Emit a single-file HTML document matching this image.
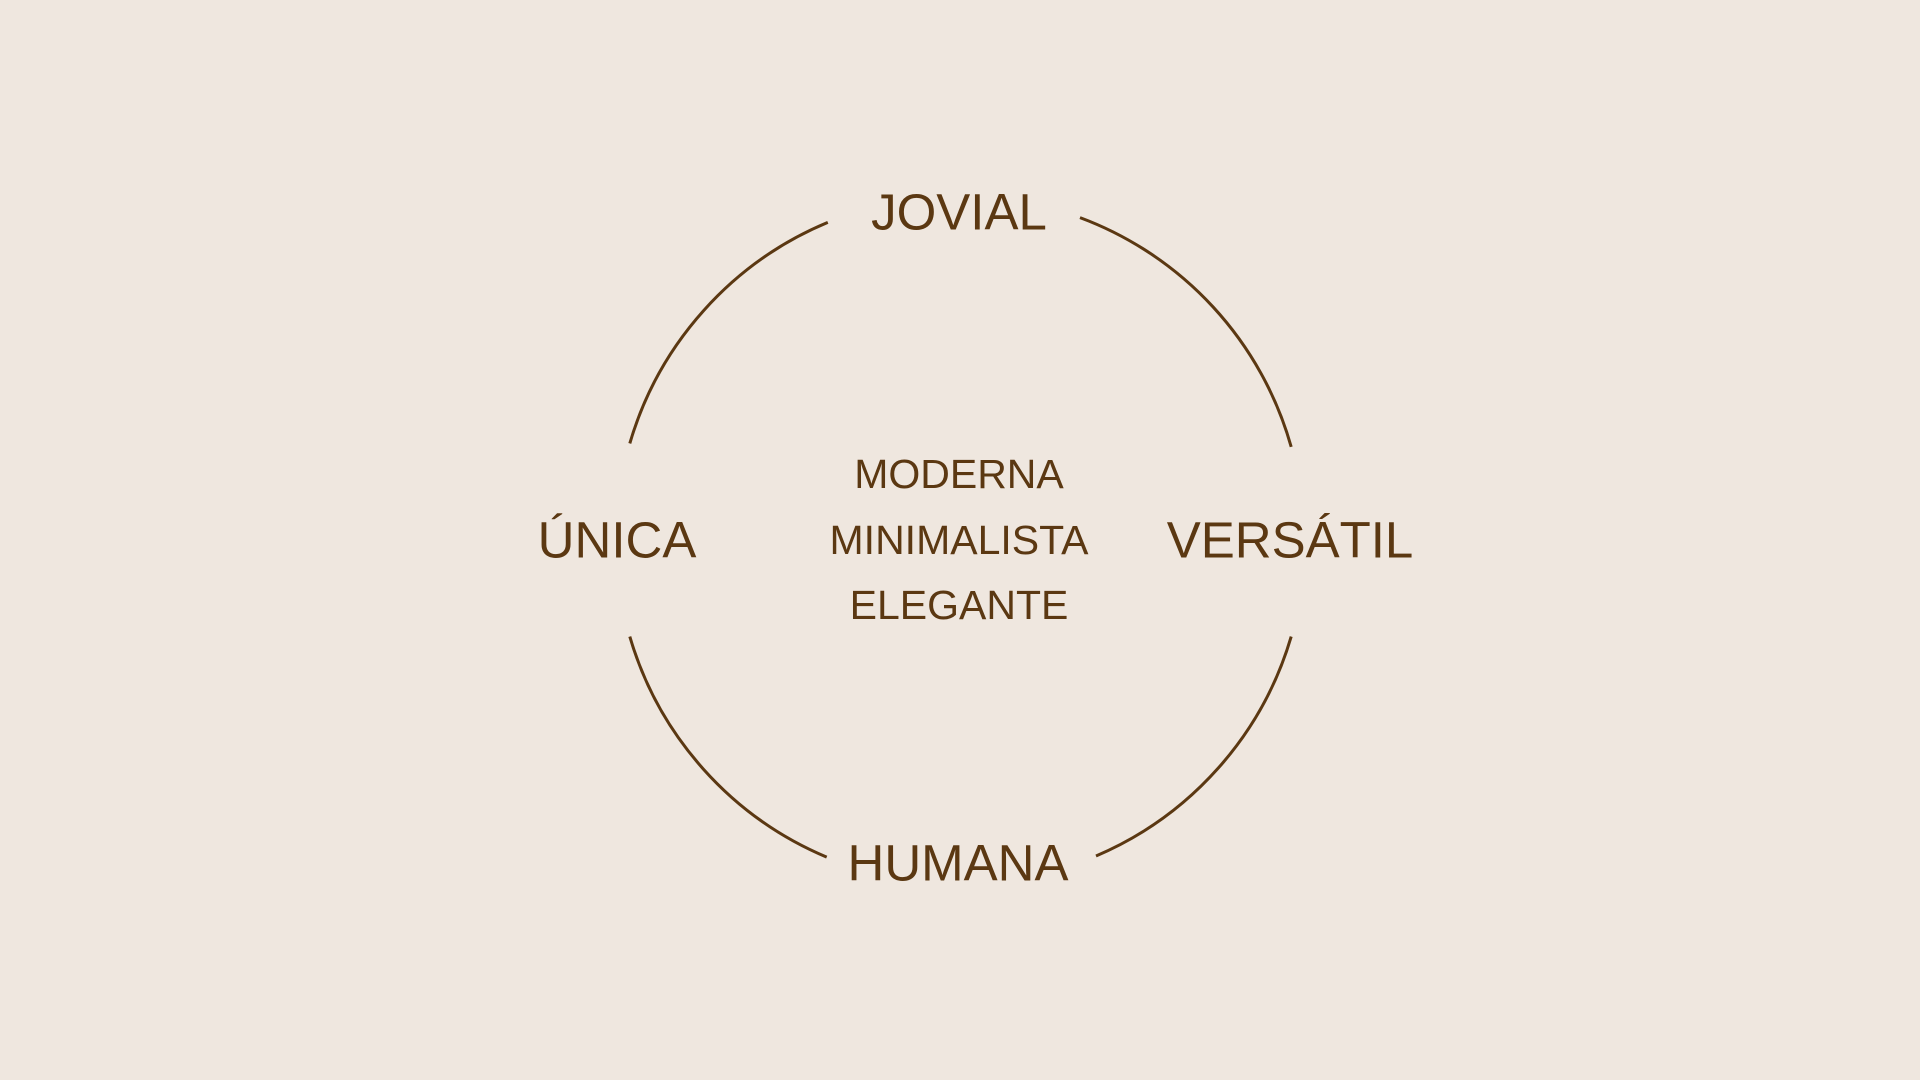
<!DOCTYPE html>
<html><head><meta charset="utf-8"><style>
html,body{margin:0;padding:0;background:#efe7df;}
svg{display:block}
text{font-family:"Liberation Sans","DejaVu Sans",sans-serif;fill:#5b3812;text-anchor:middle;dominant-baseline:central;}
</style></head><body>
<svg width="1920" height="1080" viewBox="0 0 1920 1080">
<rect width="1920" height="1080" fill="#efe7df"/>
<g fill="none" stroke="#5b3812" stroke-width="3">
<path d="M1080 217.6 A344 344 0 0 1 1291.2 446.9"/>
<path d="M827.8 222.4 A344 344 0 0 0 629.8 443.4"/>
<path d="M629.8 636.6 A344 344 0 0 0 826.7 857.1"/>
<path d="M1291.2 636.6 A344 344 0 0 1 1096 856"/>
</g>
<g font-size="51">
<text x="959" y="212">JOVIAL</text>
<text x="617" y="540">ÚNICA</text>
<text x="1290" y="540">VERSÁTIL</text>
<text x="958" y="863">HUMANA</text>
</g>
<g font-size="41">
<text x="959" y="474">MODERNA</text>
<text x="959" y="540">MINIMALISTA</text>
<text x="959" y="605">ELEGANTE</text>
</g>
</svg>
</body></html>
